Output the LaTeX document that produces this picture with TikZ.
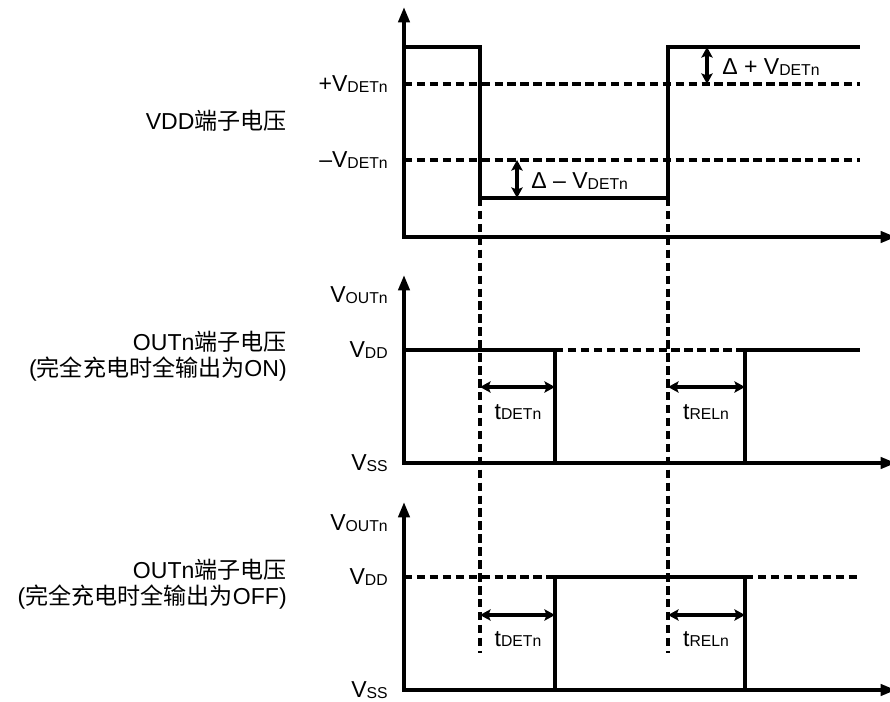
\documentclass[tikz,border=0pt]{standalone}
\usepackage{fontspec}
\setmainfont{Liberation Sans}
\newfontfamily\cjk{Noto Sans CJK SC}
\usepackage{tikz}
\usetikzlibrary{arrows.meta, positioning}
\newcommand{\sbs}[1]{\raisebox{-0.6pt}{\fontsize{11.2}{12}\selectfont #1}}

\begin{document}
\begin{tikzpicture}[
    x=0.025cm, y=-0.025cm,
    every node/.style={font=\fontsize{16.4}{18.5}\selectfont, inner sep=0pt},
    axis/.style={line width=2.6pt, {Triangle[length=11pt, width=8pt]}-{Triangle[length=11pt, width=8pt]}},
    wave/.style={line width=2.7pt},
    guide/.style={line width=2.3pt, dash pattern=on 6pt off 3.2pt},
    span/.style={line width=2.3pt, {Stealth[length=7.5pt, width=8pt, inset=1.5pt]}-{Stealth[length=7.5pt, width=8pt, inset=1.5pt]}},
    level/.style={anchor=east},
    caption/.style={anchor=east, align=right}
]
    \useasboundingbox (0,0) rectangle (890,702);

    % Panel 1: VDD pin voltage
    \coordinate (o1) at (404,237);
    \draw[guide] (404,84) -- (860,84);
    \draw[guide] (404,160) -- (860,160);
    \draw[guide] (480,198) -- (480,653);
    \draw[guide] (668,198) -- (668,653);
    \draw[axis] (404,7) -- (o1) -- (896,237);
    \draw[wave] (404,47) -- (480,47) -- (480,198) -- (668,198) -- (668,47) -- (860,47);
    \node[caption] (vddpin) at (287,121) {VDD{\cjk 端子电压}};
    \node[level] (vdetp) at (388,84) {+V\sbs{DETn}};
    \node[level] (vdetm) at (388,160) {–V\sbs{DETn}};

    \coordinate (dm1) at (517,160);
    \coordinate (dm2) at (517,198);
    \draw[span] (dm1) -- (dm2);
    \node[anchor=west] (dmlbl) at (531,181) {Δ – V\sbs{DETn}};
    \coordinate (dp1) at (707,47);
    \coordinate (dp2) at (707,84);
    \draw[span] (dp1) -- (dp2);
    \node[anchor=west] (dplbl) at (722,67) {Δ + V\sbs{DETn}};

    % Panel 2: OUTn pin voltage, ON type
    \coordinate (o2) at (404,463);
    \draw[guide] (555,350) -- (745,350);
    \draw[axis] (404,275) -- (o2) -- (896,463);
    \draw[wave] (404,350) -- (555,350) -- (555,463) -- (745,463) -- (745,350) -- (860,350);
    \node[caption] (onpin) at (287,356) {OUTn{\cjk 端子电压}\\({\cjk 完全充电时全输出为}ON)};
    \node[level] (vout2) at (388,295) {V\sbs{OUTn}};
    \node[level] (vdd2) at (388,350) {V\sbs{DD}};
    \node[level] (vss2) at (388,463) {V\sbs{SS}};

    \coordinate (det2a) at (480,387);
    \coordinate (det2b) at (555,387);
    \draw[span] (det2a) -- (det2b);
    \node (det2) at (518,412) {t\sbs{DETn}};
    \coordinate (rel2a) at (668,387);
    \coordinate (rel2b) at (745,387);
    \draw[span] (rel2a) -- (rel2b);
    \node (rel2) at (706,412) {t\sbs{RELn}};

    % Panel 3: OUTn pin voltage, OFF type
    \coordinate (o3) at (404,690);
    \draw[guide] (404,577) -- (555,577);
    \draw[guide] (745,577) -- (860,577);
    \draw[axis] (404,502) -- (o3) -- (896,690);
    \draw[wave] (555,690) -- (555,577) -- (745,577) -- (745,690);
    \node[caption] (offpin) at (287,584) {OUTn{\cjk 端子电压}\\({\cjk 完全充电时全输出为}OFF)};
    \node[level] (vout3) at (388,523) {V\sbs{OUTn}};
    \node[level] (vdd3) at (388,577) {V\sbs{DD}};
    \node[level] (vss3) at (388,690) {V\sbs{SS}};

    \coordinate (det3a) at (480,615);
    \coordinate (det3b) at (555,615);
    \draw[span] (det3a) -- (det3b);
    \node (det3) at (518,639) {t\sbs{DETn}};
    \coordinate (rel3a) at (668,615);
    \coordinate (rel3b) at (745,615);
    \draw[span] (rel3a) -- (rel3b);
    \node (rel3) at (706,639) {t\sbs{RELn}};

\end{tikzpicture}
\end{document}
